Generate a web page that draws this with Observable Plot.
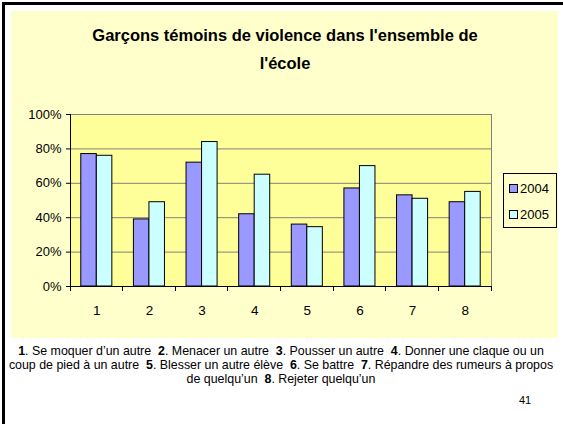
<!DOCTYPE html>
<html>
<head>
<meta charset="utf-8">
<script src="https://cdn.jsdelivr.net/npm/d3@7"></script>
<script src="https://cdn.jsdelivr.net/npm/@observablehq/plot@0.6"></script>
<style>
  body { margin: 0; background: #fff; font-family: "Liberation Sans", Arial, sans-serif; }
  #root { position: relative; width: 563px; height: 424px; overflow: hidden; background: #fff; }
  .abs { position: absolute; }
  #title { left: 0; width: 570px; top: 21px; text-align: center; font-weight: bold; font-size: 16.5px; line-height: 28px; color: #000; }
  #legend { left: 503px; top: 173px; width: 52px; height: 53px; border: 1px solid #000; background: #FFFFCC; }
  .lg { position: absolute; left: 5px; font-size: 13px; line-height: 14px; color: #000; }
  .sw { display: inline-block; width: 7px; height: 7px; border: 1px solid #000; margin-right: 2px; vertical-align: 0px; }
  #caption { left: 0; width: 562px; top: 344px; text-align: center; font-size: 12.4px; line-height: 14px; color: #000; white-space: nowrap; }
  #page { left: 519px; top: 394px; font-size: 11px; color: #000; }
  svg { position: absolute; left: 0; top: 0; }
</style>
</head>
<body>
<div id="root">
  <div class="abs" style="left:2px;top:2px;right:0;height:3px;background:#000"></div>
  <div class="abs" style="left:2px;top:2px;bottom:0;width:3px;background:#000"></div>
  <div class="abs" style="left:11px;top:11px;width:547px;height:327px;background:#FFFFCC"></div>
  <div id="chart"></div>
  <div id="title" class="abs">Garçons témoins de violence dans l'ensemble de<br>l'école</div>
  <div id="legend" class="abs"></div>
  <div id="caption" class="abs"></div>
  <div id="page" class="abs">41</div>
</div>
<script>
const categories = ["1", "2", "3", "4", "5", "6", "7", "8"];
const years = ["2004", "2005"];
const values2004 = [0.77, 0.39, 0.72, 0.42, 0.36, 0.57, 0.53, 0.49];
const values2005 = [0.76, 0.49, 0.84, 0.65, 0.345, 0.70, 0.51, 0.55];
const yTicks = [0, 0.2, 0.4, 0.6, 0.8, 1.0];
const colors = ["#9999FF", "#CCFFFF"];
const captionItems = [
  ["1", "Se moquer d\u2019un autre"],
  ["2", "Menacer un autre"],
  ["3", "Pousser un autre"],
  ["4", "Donner une claque ou un coup de pied à un autre"],
  ["5", "Blesser un autre élève"],
  ["6", "Se battre"],
  ["7", "Répandre des rumeurs à propos de quelqu\u2019un"],
  ["8", "Rejeter quelqu\u2019un"]
];

const W = 563, H = 340, ML = 70, MR = 72, MT = 114, MB = 54;
const padIn = 0.41;
const step = (W - ML - MR) / categories.length;
const bw = step * (1 - padIn);

const rows2004 = categories.map((c, i) => ({cat: c, value: values2004[i]}));
const rows2005 = categories.map((c, i) => ({cat: c, value: values2005[i]}));

function axisLines(index, scales, values, dims) {
  const sx = scales.x, sy = scales.y;
  const fx = typeof sx === "function" ? sx : sx.apply;
  const fy = typeof sy === "function" ? sy : sy.apply;
  let b = sx.bandwidth; if (typeof b === "function") b = b();
  if (!(b > 0)) b = bw;
  const st = fx(categories[1]) - fx(categories[0]);
  const left = dims.marginLeft, right = dims.width - dims.marginRight;
  const y0 = fy(0), y1 = fy(1);
  const g = d3.create("svg:g").attr("stroke", "#000").attr("stroke-width", 1).attr("shape-rendering", "crispEdges");
  const bounds = categories.map(c => fx(c) - (st - b) / 2);
  bounds.push(fx(categories[categories.length - 1]) + b + (st - b) / 2);
  g.selectAll("line.t").data(bounds).join("line")
    .attr("x1", d => d).attr("x2", d => d).attr("y1", y0).attr("y2", y0 + 5);
  g.append("line").attr("x1", left).attr("x2", right).attr("y1", y0).attr("y2", y0);
  g.append("line").attr("x1", left).attr("x2", left).attr("y1", y1).attr("y2", y0);
  return g.node();
}

const chart = Plot.plot({
  width: W, height: H,
  marginLeft: ML, marginRight: MR, marginTop: MT, marginBottom: MB,
  style: {background: "transparent", fontFamily: "Liberation Sans, Arial, sans-serif", color: "#000"},
  x: {type: "band", domain: categories, paddingInner: padIn, paddingOuter: padIn / 2, round: false, axis: null},
  y: {domain: [0, 1], axis: null},
  marks: [
    Plot.frame({fill: "#FFFF99", stroke: "#808080"}),
    Plot.gridY(yTicks, {stroke: "#808080", strokeOpacity: 1}),
    Plot.barY(rows2004, {x: "cat", y: "value", fill: colors[0], stroke: "#000", strokeWidth: 1, insetRight: bw / 2}),
    Plot.barY(rows2005, {x: "cat", y: "value", fill: colors[1], stroke: "#000", strokeWidth: 1, insetLeft: bw / 2}),
    Plot.axisY({ticks: yTicks, tickFormat: d3.format(".0%"), tickSize: 4, tickPadding: 5, fontSize: 13, label: null}),
    Plot.axisX({tickSize: 0, tickPadding: 19, fontSize: 13.5, label: null}),
    axisLines
  ]
});
document.getElementById("chart").appendChild(chart);

// legend
const legend = document.getElementById("legend");
years.forEach((yr, i) => {
  const d = document.createElement("div");
  d.className = "lg";
  d.style.top = (8 + i * 26) + "px";
  d.innerHTML = `<span class="sw" style="background:${colors[i]}"></span>${yr}`;
  legend.appendChild(d);
});

// caption with explicit line breaks as in the reference
const sp = "&nbsp; ";
const item = ([n, t]) => `<b>${n}</b>. ${t}`;
const line1 = [0, 1, 2].map(i => item(captionItems[i])).join(sp) + sp + "<b>4</b>. Donner une claque ou un";
const line2 = "coup de pied à un autre" + sp + item(captionItems[4]) + sp + item(captionItems[5]) + sp + "<b>7</b>. Répandre des rumeurs à propos";
const line3 = "de quelqu\u2019un" + sp + item(captionItems[7]);
document.getElementById("caption").innerHTML = [line1, line2, line3].join("<br>");
</script>
</body>
</html>
